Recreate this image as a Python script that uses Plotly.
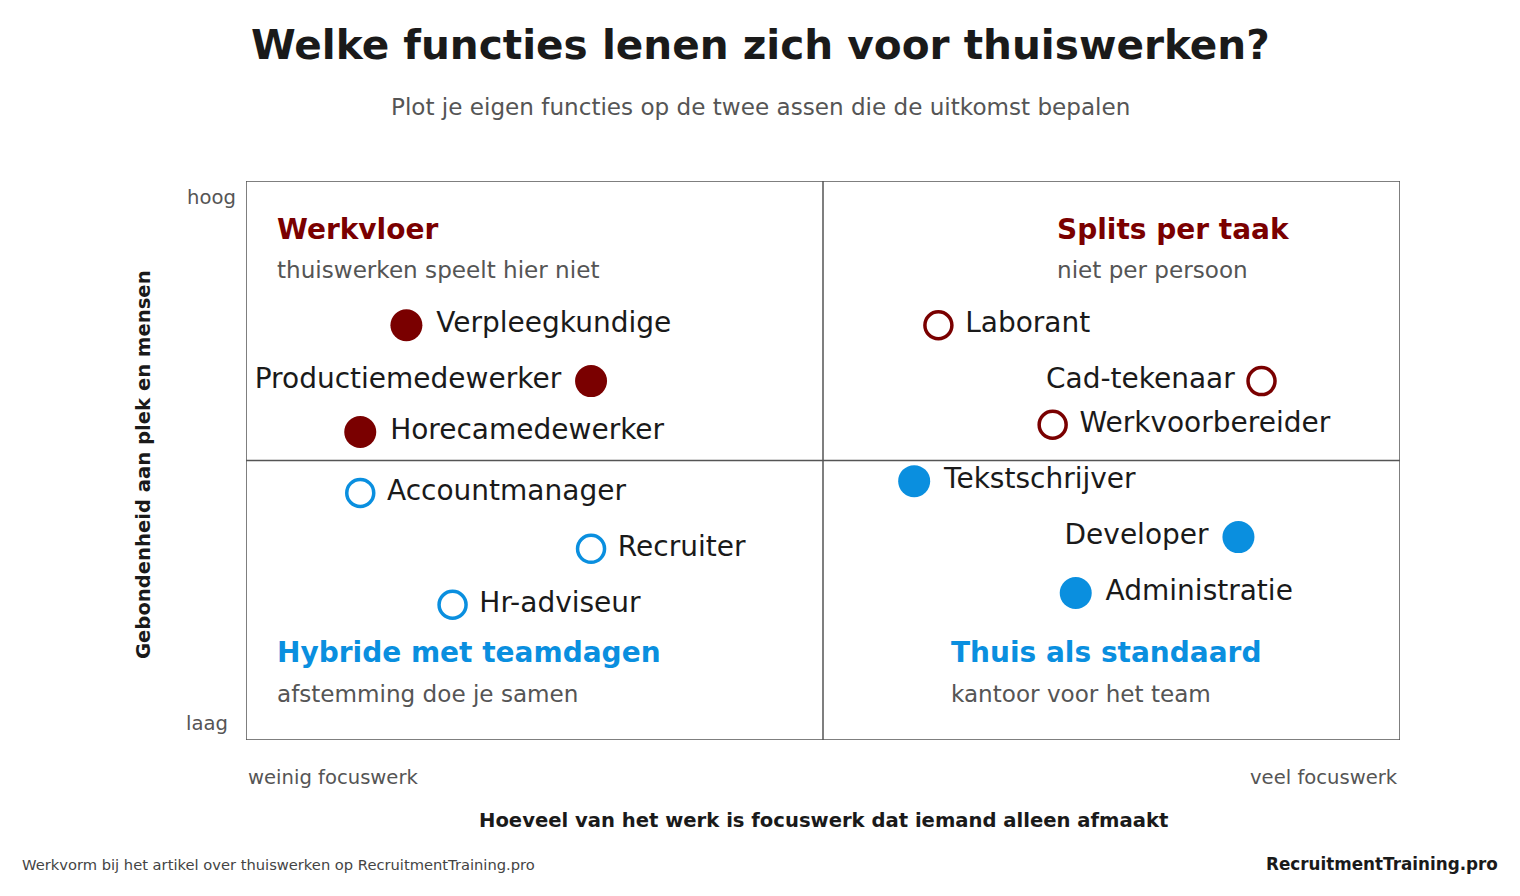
import plotly.graph_objects as go

names = ["Verpleegkundige","Productiemedewerker","Horecamedewerker","Accountmanager","Recruiter","Hr-adviseur",
         "Laborant","Cad-tekenaar","Werkvoorbereider","Tekstschrijver","Developer","Administratie"]
focus = [1.39,2.99,0.99,0.99,2.99,1.79,6.0,8.8,6.99,5.79,8.6,7.19]
binding = [7.42,6.42,5.51,4.42,3.42,2.42,7.42,6.42,5.64,4.63,3.63,2.63]
group = ["werkvloer"]*3+["hybride"]*3+["splits"]*3+["thuis"]*3
label_side = ["middle right","middle left","middle right","middle right","middle right","middle right",
              "middle right","middle left","middle right","middle right","middle left","middle right"]

RED = "#7a0000"; BLUE = "#0a8fdf"
style = {"werkvloer": (RED, True), "splits": (RED, False), "hybride": (BLUE, False), "thuis": (BLUE, True)}
FONT = "DejaVu Sans"
S = 1.4
OFF = 8

fig = go.Figure()
for g in ["werkvloer","hybride","splits","thuis"]:
    idx = [i for i in range(len(names)) if group[i]==g]
    col, filled = style[g]
    fig.add_trace(go.Scatter(
        x=[focus[i] for i in idx], y=[binding[i] for i in idx], mode="markers+text",
        text=[" "+names[i]+" " for i in idx], textposition=[label_side[i] for i in idx],
        textfont=dict(size=20*S, color="#1a1a1a", family=FONT),
        marker=dict(size=32 if filled else 27, color=col if filled else "white",
                    line=dict(color=col, width=0 if filled else 3.5)),
        showlegend=False, cliponaxis=False))

W, H = 1520, 896
fig.update_xaxes(range=[0,10], visible=False, domain=[(246-OFF)/W, (1400-OFF)/W])
fig.update_yaxes(range=[0,10], visible=False, domain=[1-(740-OFF)/H, 1-(181-OFF)/H])
LC = "#555"
shapes = [dict(type="rect", xref="x", yref="y", x0=0, x1=10, y0=0, y1=10, line=dict(color=LC, width=1.5)),
          dict(type="line", xref="x", yref="y", x0=5, x1=5, y0=0, y1=10, line=dict(color=LC, width=1.5)),
          dict(type="line", xref="x", yref="y", x0=0, x1=10, y0=5, y1=5, line=dict(color=LC, width=1.5))]
ann = []
def A(text, x, y, size, color, xa="left", bold=False):
    ann.append(dict(text=f"<b>{text}</b>" if bold else text, x=x, y=y, xref="x", yref="y", showarrow=False,
                    xanchor=xa, yanchor="middle", font=dict(size=size*S, color=color, family=FONT)))
def P(text, px, py, size, color, xa="center", bold=False, **kw):
    ann.append(dict(text=f"<b>{text}</b>" if bold else text, x=(px-OFF)/W, y=1-(py-OFF)/H, xref="paper", yref="paper",
                    showarrow=False, xanchor=xa, yanchor="middle", font=dict(size=size*S, color=color, family=FONT), **kw))

A("Werkvloer", 0.25, 9.14, 20, RED, bold=True)
A("thuiswerken speelt hier niet", 0.25, 8.41, 16.5, "#555")
A("Splits per taak", 7.01, 9.14, 20, RED, bold=True)
A("niet per persoon", 7.01, 8.41, 16.5, "#555")
A("Hybride met teamdagen", 0.25, 1.56, 20, BLUE, bold=True)
A("afstemming doe je samen", 0.25, 0.82, 16.5, "#555")
A("Thuis als standaard", 6.09, 1.56, 20, BLUE, bold=True)
A("kantoor voor het team", 6.09, 0.82, 16.5, "#555")

P("Welke functies lenen zich voor thuiswerken?", 760, 45, 29, "#1a1a1a", bold=True)
P("Plot je eigen functies op de twee assen die de uitkomst bepalen", 760, 107, 16.5, "#555")
P("hoog", 238, 197, 14, "#555", xa="right")
P("laag", 230, 723, 14, "#555", xa="right")
P("weinig focuswerk", 246, 777, 14, "#555", xa="left")
P("veel focuswerk", 1400, 777, 14, "#555", xa="right")
P("Hoeveel van het werk is focuswerk dat iemand alleen afmaakt", 823, 820, 14, "#1a1a1a", bold=True)
P("Gebondenheid aan plek en mensen", 143, 465, 14, "#1a1a1a", bold=True, textangle=-90)
P("Werkvorm bij het artikel over thuiswerken op RecruitmentTraining.pro", 20, 864, 10.5, "#444", xa="left")
P("RecruitmentTraining.pro", 1500, 864, 12, "#1a1a1a", xa="right", bold=True)

fig.update_layout(width=W, height=H, plot_bgcolor="white", paper_bgcolor="white",
                  margin=dict(l=0, r=0, t=0, b=0),
                  shapes=shapes, annotations=ann, font=dict(family=FONT))
fig.write_html("out.html")
